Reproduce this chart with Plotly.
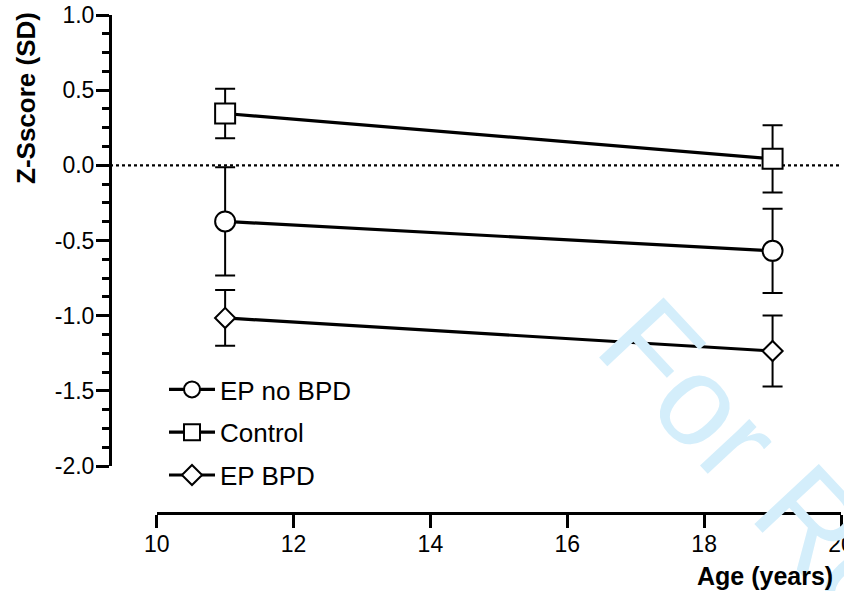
import plotly.graph_objects as go

# ---- data ----
ages = [11, 19]
series_names = ["EP no BPD", "Control", "EP BPD"]
ep_no_bpd_mean = [-0.373, -0.569]
ep_no_bpd_err = [0.360, 0.281]
control_mean = [0.345, 0.043]
control_err = [0.165, 0.223]
ep_bpd_mean = [-1.015, -1.235]
ep_bpd_err = [0.185, 0.236]

y_tickvals = [-2.0, -1.5, -1.0, -0.5, 0.0, 0.5, 1.0]
y_ticktext = ["-2.0", "-1.5", "-1.0", "-0.5", "0.0", "0.5", "1.0"]
x_tickvals = [10, 12, 14, 16, 18, 20]
x_ticktext = ["10", "12", "14", "16", "18", "20"]
ref_line_y = 0.0

FONT = "Liberation Sans, Arial, Helvetica, sans-serif"
W, H = 844, 591
ML, MR, MT, MB = 110, 3, 15, 78
PW = W - ML - MR
PH = H - MT - MB

def px_x(p):
    return (p - ML) / PW

def px_y(p):
    return (H - MB - p) / PH

fig = go.Figure()

series = [
    (series_names[0], ep_no_bpd_mean, ep_no_bpd_err, "circle", 20),
    (series_names[1], control_mean, control_err, "square", 20),
    (series_names[2], ep_bpd_mean, ep_bpd_err, "diamond", 15.5),
]
for name, mean, err, sym, size in series:
    fig.add_trace(go.Scatter(
        x=ages, y=mean, name=name, legendgroup=name,
        mode="lines+markers",
        line=dict(color="black", width=3.2),
        marker=dict(symbol=sym, size=size, color="white",
                    line=dict(color="black", width=2)),
        error_y=dict(type="data", array=err, visible=True,
                     color="black", thickness=2, width=10),
    ))

fig.add_shape(type="line", xref="paper", yref="y",
              x0=0, x1=1, y0=ref_line_y, y1=ref_line_y,
              line=dict(color="black", width=2.2, dash="dot"), layer="below")

fig.update_layout(
    width=W, height=H,
    margin=dict(l=ML, r=MR, t=MT, b=MB, autoexpand=False),
    paper_bgcolor="white", plot_bgcolor="white",
    font=dict(family=FONT, color="black", size=23),
    showlegend=True,
    legend=dict(x=px_x(164), y=px_y(366), xanchor="left", yanchor="top",
                font=dict(size=26, family=FONT, color="black"),
                bgcolor="rgba(0,0,0,0)", traceorder="grouped",
                tracegroupgap=6, itemwidth=46),
    xaxis=dict(range=[10, 20], domain=[px_x(156.7), 1.0],
               anchor="free", position=0,
               showgrid=False, zeroline=False,
               showline=True, linecolor="black", linewidth=3,
               ticks="outside", ticklen=13, tickwidth=3, tickcolor="black",
               tickmode="array", tickvals=x_tickvals, ticktext=x_ticktext,
               tickfont=dict(size=23, family=FONT, color="black"),
               ticklabelstandoff=-4,
               ticklabeloverflow="allow", automargin=False),
    yaxis=dict(range=[-2, 1], domain=[px_y(466), 1.0],
               anchor="free", position=0,
               showgrid=False, zeroline=False,
               showline=True, linecolor="black", linewidth=3,
               ticks="outside", ticklen=13, tickwidth=3, tickcolor="black",
               tickmode="array", tickvals=y_tickvals, ticktext=y_ticktext,
               tickfont=dict(size=23, family=FONT, color="black"),
               ticklabelstandoff=-3,
               ticklabeloverflow="allow",
               minor=dict(tickmode="linear", tick0=0, dtick=0.125,
                          ticks="outside", ticklen=7, tickwidth=3,
                          tickcolor="black", showgrid=False),
               automargin=False),
)

fig.add_annotation(text="For Review", xref="paper", yref="paper",
                   x=px_x(846), y=px_y(556), textangle=47,
                   xanchor="center", yanchor="middle", showarrow=False,
                   font=dict(size=128, family=FONT, color="#d4eefb"))
fig.add_annotation(text="<b>Z-Sscore (SD)</b>", xref="paper", yref="paper",
                   x=px_x(26), y=px_y(98), textangle=-90,
                   xanchor="center", yanchor="middle", showarrow=False,
                   font=dict(size=26, family=FONT, color="black"))
fig.add_annotation(text="<b>Age (years)</b>", xref="paper", yref="paper",
                   x=px_x(835), y=px_y(576),
                   xanchor="right", yanchor="middle", showarrow=False,
                   font=dict(size=25, family=FONT, color="black"))

fig.write_html(
    "out.html",
    config={"displayModeBar": False},
    post_script="document.body.style.margin='0';document.body.style.overflow='hidden';",
)
